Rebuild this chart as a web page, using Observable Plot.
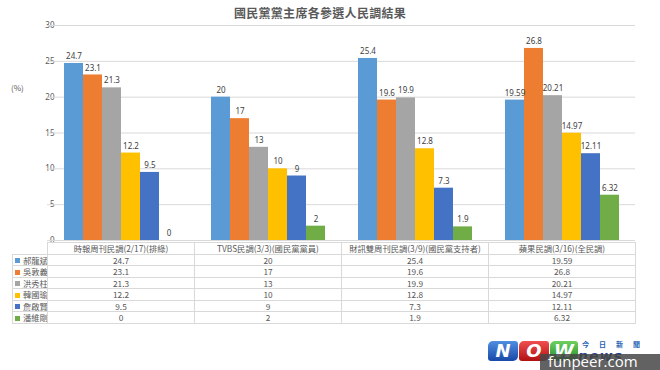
<!DOCTYPE html>
<html>
<head>
<meta charset="utf-8">
<script src="https://cdn.jsdelivr.net/npm/d3@7"></script>
<script src="https://cdn.jsdelivr.net/npm/@observablehq/plot@0.6"></script>
<style>
  html, body { margin: 0; padding: 0; background: #fff; }
  #wrap { position: relative; width: 660px; height: 370px; overflow: hidden; font-family: "Noto Sans CJK TC", "Noto Sans", sans-serif; color: #595959; }
  #title { position: absolute; left: 0; width: 640px; top: 4px; text-align: center; font-size: 12px; font-weight: bold; color: #595959; letter-spacing: 0.3px; }
  #plot { position: absolute; left: 0; top: 0; }
  #unit { position: absolute; left: 11px; top: 82px; font-size: 8px; color: #595959; }
  #tbl { position: absolute; left: 12px; top: 242px; border-collapse: collapse; table-layout: fixed; font-size: 8.3px; color: #595959; }
  #tbl td { border: 1px solid #d9d9d9; height: 10.5px; padding: 0; text-align: center; line-height: 10px; white-space: nowrap; overflow: hidden; }
  #tbl td.nm { text-align: left; padding-left: 2px; }
  #tbl td.blank { border-top: none; border-left: none; }
  .sw { display: inline-block; width: 5px; height: 5px; margin-right: 3px; vertical-align: 0.5px; }
  #logo { position: absolute; left: 488px; top: 341px; width: 172px; height: 29px; }
  .lb { position: absolute; top: 0; height: 20px; border-radius: 5px 3px 5px 3px; color: #fff; font: italic 900 18px "DejaVu Sans", sans-serif; text-align: center; line-height: 20px; }
  #news { position: absolute; left: 90px; top: 7px; font: italic 900 14px "DejaVu Sans", sans-serif; color: #1f3f8f; letter-spacing: 1px; white-space: nowrap; }
  #jr { position: absolute; left: 94px; top: -2px; font: bold 7px "Noto Sans CJK TC", sans-serif; color: #1e5fb0; letter-spacing: 10px; white-space: nowrap; }
  #wm { position: absolute; left: 540px; top: 354px; width: 120px; height: 16px; background: rgba(70,70,70,0.85); color: #fff; font: 15px "Open Sans", sans-serif; line-height: 15px; text-indent: 8px; white-space: nowrap; }
</style>
</head>
<body>
<div id="wrap">
  <div id="title">國民黨黨主席各參選人民調結果</div>
  <div id="plot"></div>
  <div id="unit">(%)</div>
  <table id="tbl"></table>
  <div id="logo">
    <div class="lb" style="left:0;width:30px;background:linear-gradient(#4f8fe0,#1848a8);">N</div>
    <div class="lb" style="left:31px;width:30px;background:linear-gradient(#f05050,#b01010);">O</div>
    <div class="lb" style="left:62px;width:28px;background:linear-gradient(#6fd060,#1f8f2f);">W</div>
    <div id="news">news</div>
    <div id="jr">今日新聞</div>
  </div>
  <div id="wm">funpeer.com</div>
</div>
<script>
const surveys = [
  "時報周刊民調(2/17)(排綠)",
  "TVBS民調(3/3)(國民黨黨員)",
  "財訊雙周刊民調(3/9)(國民黨支持者)",
  "蘋果民調(3/16)(全民調)"
];
const candidates = ["郝龍斌", "吳敦義", "洪秀柱", "韓國瑜", "詹啟賢", "潘維剛"];
const colors = ["#5B9BD5", "#ED7D31", "#A5A5A5", "#FFC000", "#4472C4", "#70AD47"];
// values[candidate][survey]
const values = [
  [24.7, 20, 25.4, 19.59],
  [23.1, 17, 19.6, 26.8],
  [21.3, 13, 19.9, 20.21],
  [12.2, 10, 12.8, 14.97],
  [9.5, 9, 7.3, 12.11],
  [0, 2, 1.9, 6.32]
];
const labels = [
  ["24.7", "20", "25.4", "19.59"],
  ["23.1", "17", "19.6", "26.8"],
  ["21.3", "13", "19.9", "20.21"],
  ["12.2", "10", "12.8", "14.97"],
  ["9.5", "9", "7.3", "12.11"],
  ["0", "2", "1.9", "6.32"]
];
const yTicks = [0, 5, 10, 15, 20, 25, 30];

const data = [];
candidates.forEach((c, i) => surveys.forEach((s, j) => data.push({survey: s, name: c, value: values[i][j], label: labels[i][j]})));

const fxPadInner = 0.19, fxPadOuter = 0.095;
const chart = Plot.plot({
  width: 660,
  height: 250,
  marginTop: 25,
  marginBottom: 10,
  marginLeft: 47,
  marginRight: 25,
  style: {fontFamily: "'Noto Sans', sans-serif", fontSize: "8px", color: "#595959", background: "transparent"},
  fx: {domain: surveys, paddingInner: fxPadInner, paddingOuter: fxPadOuter, axis: null, label: null},
  x: {domain: candidates, padding: 0, axis: null, label: null},
  y: {domain: [0, 30], ticks: yTicks, tickSize: 0, tickPadding: 7, label: null, grid: false},
  color: {domain: candidates, range: colors},
  marks: [
    Plot.ruleY(yTicks, {stroke: "#d9d9d9", strokeWidth: 1, insetLeft: -14, insetRight: -14}),
    Plot.barY(data, {fx: "survey", x: "name", y: "value", fill: "name"}),
    Plot.text(data, {fx: "survey", x: "name", y: "value", text: "label", dy: -7, fill: "#404040", fontSize: 8})
  ]
});
document.getElementById("plot").appendChild(chart);

// table built from the same arrays, columns aligned on the fx scale
const fx = chart.scale("fx");
const step = fx.step, bw = fx.bandwidth;
const firstLeft = fx.apply(surveys[0]) - (step - bw) / 2;
const tbl = d3.select("#tbl");
const cg = tbl.append("colgroup");
cg.append("col").style("width", (firstLeft - 12) + "px");
surveys.forEach(() => cg.append("col").style("width", step + "px"));
tbl.style("width", (firstLeft - 12 + step * surveys.length) + "px");
const hr = tbl.append("tr");
hr.append("td").attr("class", "blank");
surveys.forEach(s => hr.append("td").text(s));
candidates.forEach((c, i) => {
  const tr = tbl.append("tr");
  const td = tr.append("td").attr("class", "nm");
  td.append("span").attr("class", "sw").style("background", colors[i]);
  td.append("span").text(c);
  labels[i].forEach(v => tr.append("td").text(v));
});
</script>
</body>
</html>
